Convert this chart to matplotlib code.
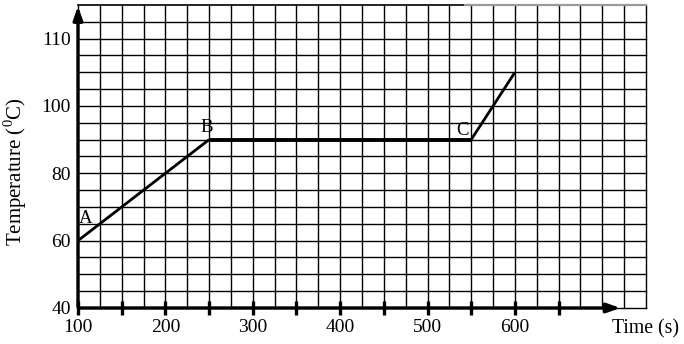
import numpy as np
import matplotlib
matplotlib.use("Agg")
import matplotlib.pyplot as plt

plt.rcParams['font.family'] = ['Liberation Serif', 'DejaVu Serif']
plt.rcParams['mathtext.fontset'] = 'custom'
plt.rcParams['mathtext.rm'] = 'Liberation Serif'

# heating curve (time in s, temperature in degC)
time_s = [100, 250, 550, 600]
temp_c = [60, 90, 90, 110]
point_names = ['A', 'B', 'C']

x_tick_pos = [100, 150, 200, 250, 300, 350, 400, 450, 500, 550, 600, 650]
x_tick_labels = ['100', '', '200', '', '300', '', '400', '', '500', '', '600', '']
y_tick_pos = [40, 60, 80, 100, 120]
y_tick_labels = ['40', '60', '80', '100', '110']

fig = plt.figure(figsize=(6.84, 3.44), dpi=100)
ax = fig.add_axes([0.114, 0.1047, 0.8304, 0.8808])
ax.set_xlim(100, 750)
ax.set_ylim(40, 130)

# graph paper
for gx in np.arange(100, 751, 25):
    ax.axvline(gx, color='black', lw=1.0, zorder=1, clip_on=False)
for gy in np.arange(40, 126, 5):
    ax.axhline(gy, color='black', lw=1.0, zorder=1, clip_on=False)
ax.plot([100, 543], [130, 130], color='black', lw=1.2, zorder=1, clip_on=False)
ax.plot([543, 750], [130, 130], color='#9a9a9a', lw=1.6, zorder=1, clip_on=False)

for s in ax.spines.values():
    s.set_visible(False)

# axes with arrows
ax.annotate('', xy=(724, 40), xytext=(99, 40),
            arrowprops=dict(arrowstyle='-|>,head_length=0.8,head_width=0.28', color='black', lw=2.4),
            annotation_clip=False, zorder=4)
ax.annotate('', xy=(100, 130.5), xytext=(100, 39.5),
            arrowprops=dict(arrowstyle='-|>,head_length=0.8,head_width=0.28', color='black', lw=2.4),
            annotation_clip=False, zorder=4)

ax.set_xticks(x_tick_pos)
ax.set_xticklabels(x_tick_labels, fontsize=14)
ax.set_yticks(y_tick_pos)
ax.set_yticklabels(y_tick_labels, fontsize=14)
ax.tick_params(axis='x', direction='inout', length=10, width=2.4, pad=3)
ax.tick_params(axis='y', length=0, pad=5)

# the curve
ax.plot(time_s[:2], temp_c[:2], color='black', lw=2.0, zorder=5, solid_capstyle='butt')
ax.plot(time_s[1:3], temp_c[1:3], color='black', lw=2.8, zorder=5, solid_capstyle='butt')
ax.plot(time_s[2:], temp_c[2:], color='black', lw=2.0, zorder=5, solid_capstyle='butt')

ax.text(time_s[0] + 9, temp_c[0] + 6.5, point_names[0], fontsize=13.5, ha='center', va='center')
ax.text(time_s[1] - 3, temp_c[1] + 3.7, point_names[1], fontsize=13.5, ha='center', va='center')
ax.text(time_s[2] - 10, temp_c[2] + 2.8, point_names[2], fontsize=13.5, ha='center', va='center')

fig.text(0.022, 0.5, r'Temperature ($^{0}$C)', rotation=90, fontsize=15,
         ha='center', va='center')
fig.text(0.993, 0.044, 'Time (s)', fontsize=14.2, ha='right', va='center')

fig.savefig('out.png', dpi=100)
